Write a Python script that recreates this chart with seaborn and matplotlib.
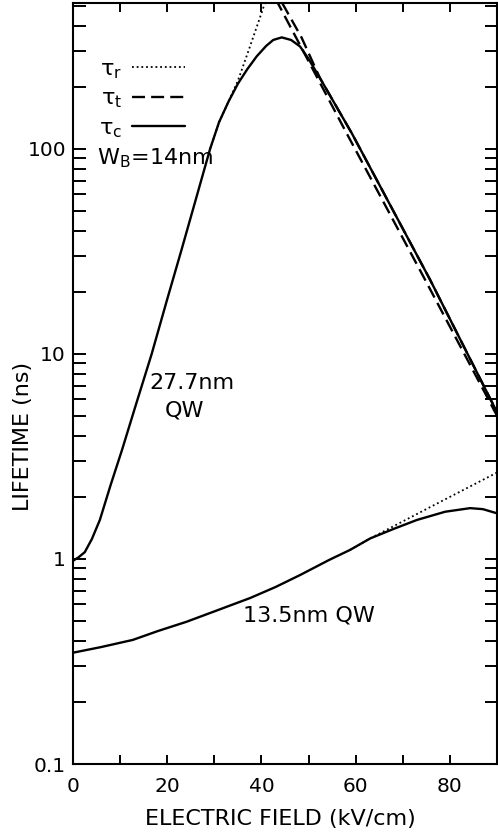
import numpy as np
import pandas as pd
import seaborn as sns
import matplotlib
matplotlib.use("Agg")
import matplotlib.pyplot as plt
from matplotlib.ticker import LogLocator, NullFormatter, FixedLocator

# Data (field in kV/cm, lifetime in ns)
# 27.7 nm QW
field_c_277 = [0, 1.2, 2.5, 4, 5.7, 8, 10.4, 13.5, 16.7, 20, 23, 26, 29.1, 31, 33, 35, 37,
               39, 41, 42.5, 44.3, 46.3, 48.2, 50, 52.4, 59.2, 67, 75.8, 90]
tau_c_277 = [0.98, 1.02, 1.08, 1.25, 1.55, 2.3, 3.4, 5.8, 10, 18.5, 32, 56, 100, 135, 170, 208,
             245, 283, 318, 340, 350, 340, 316, 275, 222, 119, 55, 23, 5.2]
field_r_277 = [29.1, 31, 33, 35, 37, 40.3, 42]
tau_r_277 = [100, 135, 170, 215, 290, 480, 650]
field_t_277 = [43.0, 58.1, 74.4, 90]
tau_t_277 = [540, 119, 23.8, 5.0]
field_t2_277 = [44.4, 48.5, 52.4, 59.2, 75.8, 90]
tau_t2_277 = [515, 350, 222, 119, 23, 5.2]

# 13.5 nm QW
field_c_135 = [0, 6, 12.7, 18, 24.1, 30, 37.6, 43, 48.2, 54.4, 58.8, 63.1, 68, 73, 79, 84.3, 87, 90]
tau_c_135 = [0.349, 0.372, 0.403, 0.445, 0.494, 0.555, 0.645, 0.73, 0.835, 0.99, 1.107, 1.26,
             1.4, 1.55, 1.7, 1.77, 1.75, 1.67]
field_r_135 = [58.8, 63.1, 76, 90]
tau_r_135 = [1.107, 1.26, 1.8, 2.64]

x_ticks = [0, 20, 40, 60, 80]
y_ticks = [0.1, 1, 10, 100]
y_tick_labels = ["0.1", "1", "10", "100"]

sns.set_style("ticks")
plt.rcParams["font.family"] = ["DejaVu Sans"]
plt.rcParams["text.color"] = "black"
plt.rcParams["axes.labelcolor"] = "black"

fig = plt.figure(figsize=(4.98, 8.32), dpi=100)
ax = fig.add_axes([73 / 498, 1 - 764 / 832, (497 - 73) / 498, (764 - 3) / 832])

lw = 1.7
dotted = (0, (1, 1.6))
dashed = (0, (5.5, 2.6))
fs = 16

sns.lineplot(x=field_c_277, y=tau_c_277, color="black", linewidth=lw, ax=ax, label=r"τ$_\mathregular{c}$")
sns.lineplot(x=field_r_277, y=tau_r_277, color="black", linewidth=1.3, linestyle=dotted, ax=ax,
             label=r"τ$_\mathregular{r}$")
sns.lineplot(x=field_t_277, y=tau_t_277, color="black", linewidth=lw, linestyle=dashed, ax=ax,
             label=r"τ$_\mathregular{t}$")
sns.lineplot(x=field_t2_277, y=tau_t2_277, color="black", linewidth=lw, linestyle=dashed, ax=ax)
sns.lineplot(x=field_c_135, y=tau_c_135, color="black", linewidth=lw, ax=ax)
sns.lineplot(x=field_r_135, y=tau_r_135, color="black", linewidth=1.3, linestyle=dotted, ax=ax)

ax.set_yscale("log")
ax.set_xlim(0, 90)
ax.set_ylim(0.1, 515)

ax.set_xticks(x_ticks)
ax.set_xticklabels([str(v) for v in x_ticks])
ax.xaxis.set_minor_locator(FixedLocator([10, 30, 50, 70]))
ax.set_yticks(y_ticks)
ax.set_yticklabels(y_tick_labels)
ax.yaxis.set_minor_locator(LogLocator(base=10, subs=np.arange(2, 10)))
ax.yaxis.set_minor_formatter(NullFormatter())

ax.tick_params(axis="both", which="both", direction="in", top=True, right=True,
               width=1.4, labelsize=14.5, colors="black")
ax.tick_params(axis="y", which="both", length=9, pad=5)
ax.tick_params(axis="x", which="both", length=6.5, pad=9)
for s in ax.spines.values():
    s.set_visible(True)
    s.set_linewidth(1.5)
    s.set_color("black")

ax.set_xlabel("ELECTRIC FIELD (kV/cm)", fontsize=fs, va="center")
ax.xaxis.set_label_coords(0.488, -0.072)
ax.set_ylabel("LIFETIME (ns)", fontsize=fs, va="center")
ax.yaxis.set_label_coords(-0.118, 0.43)

# legend: text first, then line sample
h, l = ax.get_legend_handles_labels()
order = [1, 2, 0]
ax.legend([h[i] for i in order], [l[i] for i in order], markerfirst=False, frameon=False,
          loc="upper left", bbox_to_anchor=(0.04, 0.938), fontsize=fs, handlelength=2.4,
          handletextpad=0.45, labelspacing=0.36, borderaxespad=0)

ax.text(5.1, 84.5, r"W$_\mathregular{B}$=14nm", fontsize=fs, va="baseline", ha="left")
ax.text(25.2, 7.2, "27.7nm", fontsize=fs, va="center", ha="center")
ax.text(23.6, 5.3, "QW", fontsize=fs, va="center", ha="center")
ax.text(50.1, 0.533, "13.5nm QW", fontsize=fs, va="center", ha="center")

fig.savefig("out.png", dpi=100)
